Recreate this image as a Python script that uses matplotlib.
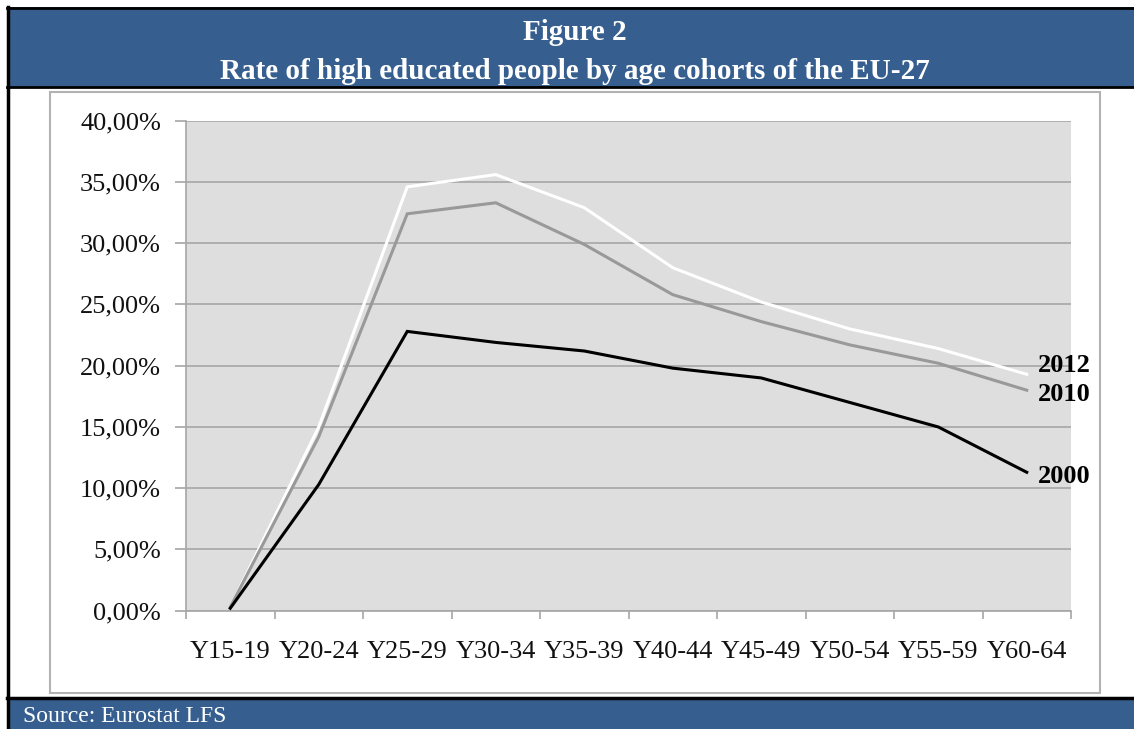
import matplotlib
matplotlib.use('Agg')
import matplotlib.pyplot as plt
from matplotlib.patches import Rectangle
from matplotlib.ticker import FuncFormatter

# data (share of high educated, %)
cohorts = ['Y15-19', 'Y20-24', 'Y25-29', 'Y30-34', 'Y35-39',
           'Y40-44', 'Y45-49', 'Y50-54', 'Y55-59', 'Y60-64']
rate_2012 = [0.3, 15.0, 34.6, 35.6, 32.9, 28.0, 25.2, 23.0, 21.4, 19.3]
rate_2010 = [0.3, 14.2, 32.4, 33.3, 29.9, 25.8, 23.6, 21.7, 20.2, 18.0]
rate_2000 = [0.2, 10.3, 22.8, 21.9, 21.2, 19.8, 19.0, 17.0, 15.0, 11.3]
series_names = ['2012', '2010', '2000']

W, H = 1134, 729
blue = '#365f8f'
serif = ['Liberation Serif', 'DejaVu Serif']

fig = plt.figure(figsize=(W / 100, H / 100), dpi=100)

# background layer in pixel coords (y down)
bg = fig.add_axes([0, 0, 1, 1], zorder=0)
bg.set_xlim(0, W)
bg.set_ylim(H, 0)
bg.axis('off')

bg.add_patch(Rectangle((7, 7), W - 7, 80, facecolor=blue, edgecolor='none'))
bg.plot([7, W], [7.5, 7.5], color='black', lw=2)
bg.plot([7, W], [87, 87], color='black', lw=2)
bg.add_patch(Rectangle((7, 698), W - 7, 31, facecolor=blue, edgecolor='none'))
bg.plot([7, W], [697.5, 697.5], color='black', lw=2.5)
bg.plot([7.5, 7.5], [7, H], color='black', lw=2.5)
bg.add_patch(Rectangle((50, 92), 1050, 601, facecolor='white',
                       edgecolor='#b2b2b2', lw=1.5))

bg.text(575, 32, 'Figure 2', ha='center', va='center', color='white',
        fontsize=21, fontweight='bold', family=serif)
bg.text(575, 71, 'Rate of high educated people by age cohorts of the EU-27',
        ha='center', va='center', color='white', fontsize=21,
        fontweight='bold', family=serif)
bg.text(23, 716, 'Source: Eurostat LFS', ha='left', va='center',
        color='white', fontsize=17, family=serif)

# chart
left, right, top, bottom = 186, 1071, 120.7, 610.7
ax = fig.add_axes([left / W, 1 - bottom / H, (right - left) / W, (bottom - top) / H],
                  zorder=1)
ax.set_facecolor('#dedede')

x = list(range(len(cohorts)))
ax.plot(x, rate_2012, color='white', lw=2.2, solid_joinstyle='miter', zorder=3)
ax.plot(x, rate_2010, color='#999999', lw=2.2, solid_joinstyle='miter', zorder=3)
ax.plot(x, rate_2000, color='black', lw=2.2, solid_joinstyle='miter', zorder=4)

offsets = [6, -3, -3]
for name, vals, dy in zip(series_names, [rate_2012, rate_2010, rate_2000], offsets):
    ax.annotate(name, (x[-1], vals[-1]), xytext=(8, dy), textcoords='offset points',
                ha='left', va='center', fontsize=19, fontweight='bold',
                family=serif, annotation_clip=False)

ax.set_xlim(-0.5, len(cohorts) - 0.5)
ax.set_ylim(0, 40)
ax.set_yticks(range(0, 41, 5))
ax.yaxis.set_major_formatter(FuncFormatter(lambda v, p: f'{v:.2f}%'.replace('.', ',')))
ax.yaxis.grid(True, color='#a6a6a6', lw=1.2)
ax.set_axisbelow(True)

ax.set_xticks(x)
ax.set_xticklabels(cohorts)
ax.set_xticks([i - 0.5 for i in range(len(cohorts) + 1)], minor=True)
ax.tick_params(axis='x', which='major', length=0, pad=22)
ax.tick_params(axis='x', which='minor', length=6, color='#a6a6a6', width=1.2)
ax.tick_params(axis='y', length=8, color='#a6a6a6', width=1.2, pad=10)

for lab in ax.get_xticklabels() + ax.get_yticklabels():
    lab.set_family(serif)
    lab.set_fontsize(19)
    lab.set_color('#111111')

for s in ['top', 'right']:
    ax.spines[s].set_visible(False)
for s in ['left', 'bottom']:
    ax.spines[s].set_color('#a6a6a6')
    ax.spines[s].set_linewidth(1.2)

fig.savefig('out.png', dpi=100)
